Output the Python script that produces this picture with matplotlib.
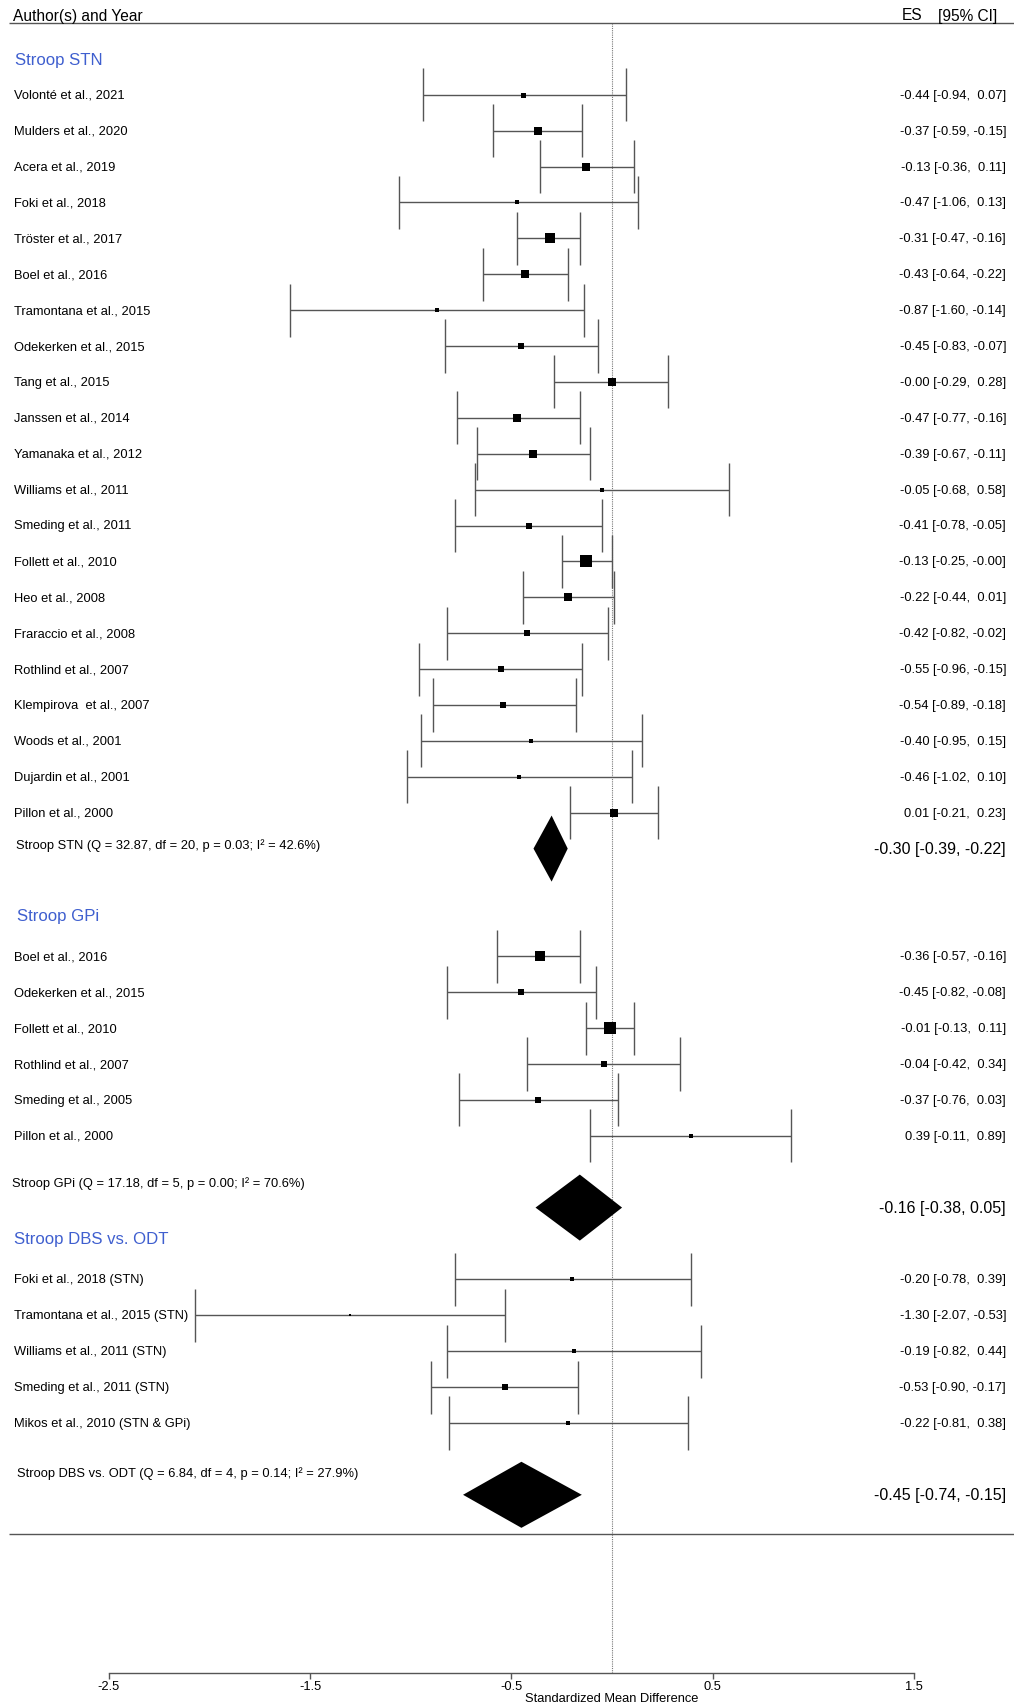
import matplotlib
matplotlib.use("Agg")
import matplotlib.pyplot as plt

plt.rcParams['font.family'] = ['Liberation Sans', 'DejaVu Sans']

# --- study data -------------------------------------------------------------
stn_labels = ["Volonté et al., 2021", "Mulders et al., 2020", "Acera et al., 2019",
              "Foki et al., 2018", "Tröster et al., 2017", "Boel et al., 2016",
              "Tramontana et al., 2015", "Odekerken et al., 2015", "Tang et al., 2015",
              "Janssen et al., 2014", "Yamanaka et al., 2012", "Williams et al., 2011",
              "Smeding et al., 2011", "Follett et al., 2010", "Heo et al., 2008",
              "Fraraccio et al., 2008", "Rothlind et al., 2007", "Klempirova  et al., 2007",
              "Woods et al., 2001", "Dujardin et al., 2001", "Pillon et al., 2000"]
stn_es = [-0.44, -0.37, -0.13, -0.47, -0.31, -0.43, -0.87, -0.45, -0.0, -0.47, -0.39,
          -0.05, -0.41, -0.13, -0.22, -0.42, -0.55, -0.54, -0.40, -0.46, 0.01]
stn_lo = [-0.94, -0.59, -0.36, -1.06, -0.47, -0.64, -1.60, -0.83, -0.29, -0.77, -0.67,
          -0.68, -0.78, -0.25, -0.44, -0.82, -0.96, -0.89, -0.95, -1.02, -0.21]
stn_hi = [0.07, -0.15, 0.11, 0.13, -0.16, -0.22, -0.14, -0.07, 0.28, -0.16, -0.11,
          0.58, -0.05, -0.0, 0.01, -0.02, -0.15, -0.18, 0.15, 0.10, 0.23]
stn_wt = [4, 7, 7, 3, 8, 7, 3, 5, 6, 6, 6, 3, 5, 9, 7, 5, 5, 5, 3.5, 3.5, 7]

gpi_labels = ["Boel et al., 2016", "Odekerken et al., 2015", "Follett et al., 2010",
              "Rothlind et al., 2007", "Smeding et al., 2005", "Pillon et al., 2000"]
gpi_es = [-0.36, -0.45, -0.01, -0.04, -0.37, 0.39]
gpi_lo = [-0.57, -0.82, -0.13, -0.42, -0.76, -0.11]
gpi_hi = [-0.16, -0.08, 0.11, 0.34, 0.03, 0.89]
gpi_wt = [7.5, 5, 9, 5, 4.7, 3.5]

odt_labels = ["Foki et al., 2018 (STN)", "Tramontana et al., 2015 (STN)",
              "Williams et al., 2011 (STN)", "Smeding et al., 2011 (STN)",
              "Mikos et al., 2010 (STN & GPi)"]
odt_es = [-0.20, -1.30, -0.19, -0.53, -0.22]
odt_lo = [-0.78, -2.07, -0.82, -0.90, -0.81]
odt_hi = [0.39, -0.53, 0.44, -0.17, 0.38]
odt_wt = [3.5, 2, 3, 5.5, 3]

# pooled estimates and heterogeneity
group_names = ["Stroop STN", "Stroop GPi", "Stroop DBS vs. ODT"]
pooled_es = [-0.30, -0.16, -0.45]
pooled_lo = [-0.39, -0.38, -0.74]
pooled_hi = [-0.22, 0.05, -0.15]
q_stat = ["32.87", "17.18", "6.84"]
q_df = [20, 5, 4]
q_p = ["0.03", "0.00", "0.14"]
i2 = ["42.6", "70.6", "27.9"]

x_ticks = [-2.5, -1.5, -0.5, 0.5, 1.5]

# --- layout helpers (pixel -> data) -----------------------------------------
W, H = 1014, 1706
X0, XS = 612.0, 201.3      # pixel of x=0 and pixels per unit
R0, RS = 95.7, 35.9        # pixel of first row and row height
AXIS_PX = 1674


def px_x(p):
    return (p - X0) / XS


def px_r(p):
    return (p - R0) / RS


fig = plt.figure(figsize=(W / 100, H / 100), dpi=100)
ax = fig.add_axes([0, 0, 1, 1])
ax.set_xlim(px_x(0), px_x(W))
ax.set_ylim(px_r(H), px_r(0))

LINE = '#555555'
BLUE = '#3F5FCF'
CAP = 0.74
DIA = 0.92
FS = 9.3


def draw_studies(labels, es, lo, hi, wt, first_row):
    for i in range(len(labels)):
        r = first_row + i
        ax.hlines(r, lo[i], hi[i], color=LINE, lw=1.0)
        ax.vlines([lo[i], hi[i]], r - CAP, r + CAP, color=LINE, lw=1.0)
        ax.plot(es[i], r, marker='s', color='black', markeredgewidth=0,
                markersize=wt[i] * 0.9, zorder=4)
        ax.text(px_x(14), r, labels[i], fontsize=FS, va='center', ha='left')
        ax.text(px_x(1006), r, f"{es[i]:.2f} [{lo[i]:5.2f}, {hi[i]:5.2f}]",
                fontsize=FS, va='center', ha='right')


def draw_pooled(k, row, label_row, label_px):
    e, lo, hi = pooled_es[k], pooled_lo[k], pooled_hi[k]
    ax.fill([lo, e, hi, e], [row, row - DIA, row, row + DIA], color='black', lw=0, zorder=4)
    ax.text(px_x(label_px), label_row,
            f"{group_names[k]} (Q = {q_stat[k]}, df = {q_df[k]}, p = {q_p[k]}; I\u00b2 = {i2[k]}%)",
            fontsize=FS, va='center', ha='left')
    ax.text(px_x(1006), row, f"{e:.2f} [{lo:.2f}, {hi:.2f}]",
            fontsize=11.5, va='center', ha='right')


# header
ax.text(px_x(13), px_r(16), "Author(s) and Year", fontsize=11.2, va='center', ha='left')
ax.text(px_x(902), px_r(16), "ES", fontsize=11.2, va='center', ha='left')
ax.text(px_x(997), px_r(16), "[95% CI]", fontsize=11.2, va='center', ha='right')
ax.hlines([px_r(24), px_r(1535)], px_x(9), px_x(W), color=LINE, lw=1.0)

# reference line at zero
ax.vlines(0, px_r(24), px_r(AXIS_PX), color='#777777', lw=0.8, linestyle=(0, (1, 1)), zorder=1)

# group headers
ax.text(px_x(15), -0.97, group_names[0], fontsize=12.1, color=BLUE, va='center', ha='left')
ax.text(px_x(17), 22.85, group_names[1], fontsize=12.1, color=BLUE, va='center', ha='left')
ax.text(px_x(14), 31.85, group_names[2], fontsize=12.1, color=BLUE, va='center', ha='left')

draw_studies(stn_labels, stn_es, stn_lo, stn_hi, stn_wt, 0)
draw_pooled(0, 21, 20.9, 16)

draw_studies(gpi_labels, gpi_es, gpi_lo, gpi_hi, gpi_wt, 24)
draw_pooled(1, 31, 30.3, 12)

draw_studies(odt_labels, odt_es, odt_lo, odt_hi, odt_wt, 33)
draw_pooled(2, 39, 38.38, 17)

# x axis
for s in ['top', 'left', 'right']:
    ax.spines[s].set_visible(False)
ax.spines['bottom'].set_position(('data', px_r(AXIS_PX)))
ax.spines['bottom'].set_bounds(x_ticks[0], x_ticks[-1])
ax.spines['bottom'].set_color(LINE)
ax.spines['bottom'].set_linewidth(1.0)
ax.set_yticks([])
ax.set_xticks(x_ticks)
ax.set_xticklabels([f"{t:g}" for t in x_ticks], fontsize=FS)
ax.tick_params(axis='x', direction='out', length=4, width=1.0, color=LINE, pad=1)
ax.text(0, px_r(1699), "Standardized Mean Difference", fontsize=FS,
        va='center', ha='center')
ax.patch.set_visible(False)

fig.savefig("out.png", dpi=100)
